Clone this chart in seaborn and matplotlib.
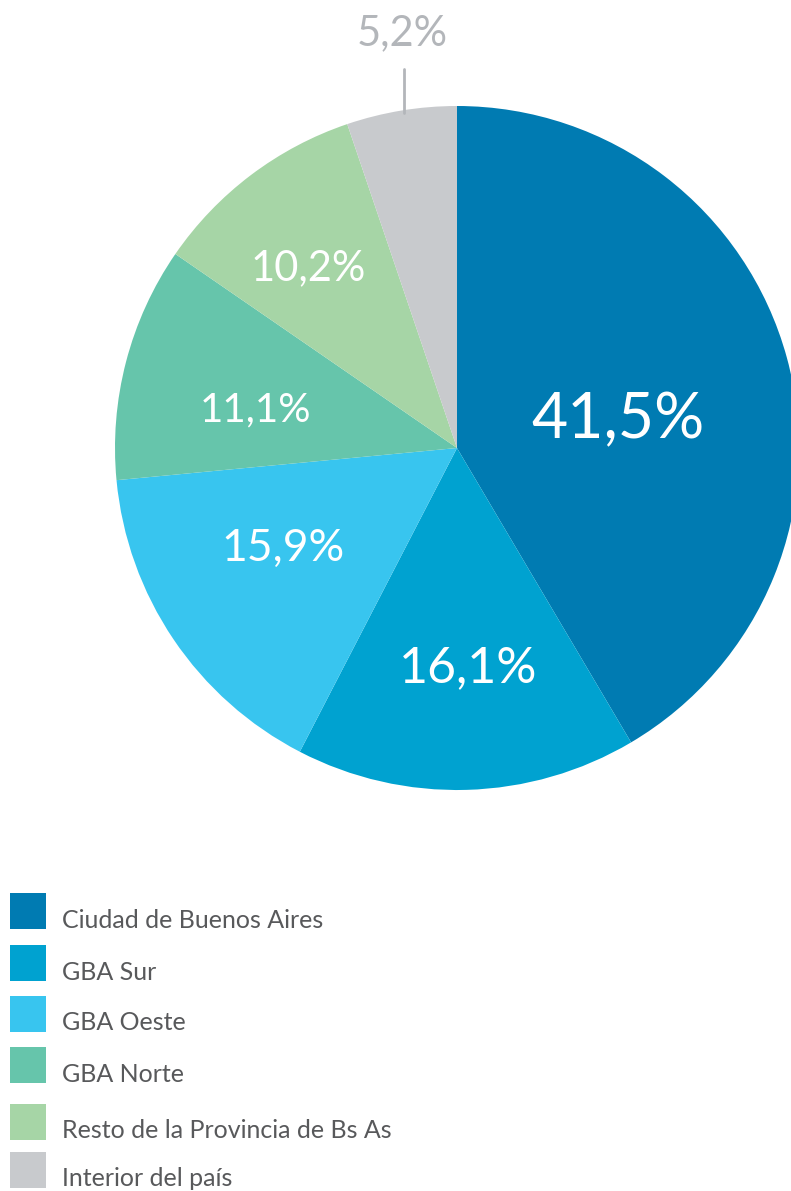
import matplotlib
matplotlib.use("Agg")
import matplotlib.pyplot as plt
from matplotlib.patches import Rectangle
import seaborn as sns

# data
categories = ["Ciudad de Buenos Aires", "GBA Sur", "GBA Oeste", "GBA Norte",
              "Resto de la Provincia de Bs As", "Interior del país"]
shares = [41.5, 16.1, 15.9, 11.1, 10.2, 5.2]
share_labels = ["41,5%", "16,1%", "15,9%", "11,1%", "10,2%", "5,2%"]

colors = ["#007bb2", "#00a2d0", "#38c5ef", "#66c5ab", "#a6d5a6", "#c8cacd"]

sns.set_theme(style="white")
plt.rcParams['font.family'] = ['Lato', 'DejaVu Sans']
pal = sns.color_palette(colors)

W, H = 791, 1191
fig = plt.figure(figsize=(W / 100, H / 100), dpi=100)

# pie: center (457, 448) px, radius 342 px
cx, cy, r = 457, 448, 342
ax = fig.add_axes([(cx - r) / W, (H - cy - r) / H, 2 * r / W, 2 * r / H])
wedges, _ = ax.pie(shares, colors=pal, startangle=90, counterclock=False,
                   radius=1, wedgeprops=dict(linewidth=0))
ax.set_xlim(-1, 1)
ax.set_ylim(-1, 1)
ax.set_aspect("equal")
ax.axis("off")

# label placement (pixel coords in figure) and sizes
label_px = [(618, 420), (468, 668), (283, 548), (255, 410), (308, 268), (402, 33)]
label_size = [45, 36, 32, 29, 30, 30]
label_color = ["white"] * 5 + ["#b3b6ba"]
for txt, (px, py), fs, col in zip(share_labels, label_px, label_size, label_color):
    ax.text((px - cx) / r, (cy - py) / r, txt, ha="center", va="center",
            fontsize=fs, color=col)

# leader line for the small slice
ax.plot([(404 - cx) / r] * 2, [(cy - 69) / r, (cy - 113) / r],
        color="#b3b6ba", lw=2, clip_on=False)

# legend
lax = fig.add_axes([0, 0, 1, 1])
lax.set_xlim(0, W)
lax.set_ylim(H, 0)
lax.axis("off")
box_top = [893, 945, 996, 1047, 1104, 1152]
for name, col, top in zip(categories, pal, box_top):
    lax.add_patch(Rectangle((10, top), 36, 36, color=col, lw=0))
    lax.text(62, top + 27, name, ha="left", va="center", fontsize=18, color="#58595b")

fig.savefig("out.png", dpi=100)
